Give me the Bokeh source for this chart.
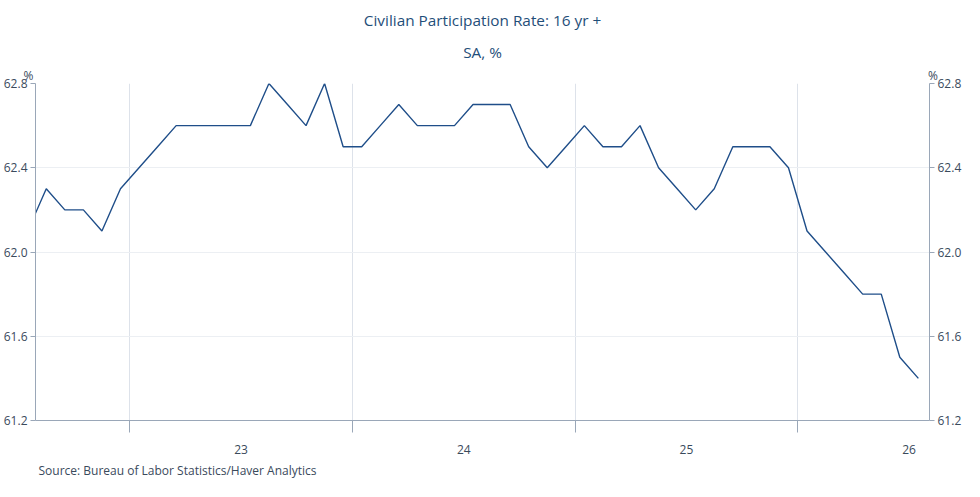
from bokeh.plotting import figure
from bokeh.models import FixedTicker, LinearAxis, Range1d, Title
from bokeh.embed import file_html
from bokeh.resources import INLINE

# months index: 0 = Jan 2023; points at mid-month
months = list(range(-6, 43))
values = [62.1, 62.3, 62.2, 62.2, 62.1, 62.3,
          62.4, 62.5, 62.6, 62.6, 62.6, 62.6, 62.6, 62.8, 62.7, 62.6, 62.8, 62.5,
          62.5, 62.6, 62.7, 62.6, 62.6, 62.6, 62.7, 62.7, 62.7, 62.5, 62.4, 62.5,
          62.6, 62.5, 62.5, 62.6, 62.4, 62.3, 62.2, 62.3, 62.5, 62.5, 62.5, 62.4,
          62.1, 62.0, 61.9, 61.8, 61.8, 61.5, 61.4]
year_labels = ["23", "24", "25", "26"]
year_starts = [0, 12, 24, 36]

xs = [m + 0.5 for m in months]
mids = [s + 6 for s in year_starts]

TXT = "#3a4a5c"
p = figure(width=964, height=481, output_backend="svg", toolbar_location=None,
           x_range=Range1d(-5.08, 43.1), y_range=Range1d(61.2, 62.8),
           min_border_left=31, min_border_right=33, min_border_top=4, min_border_bottom=0)
p.outline_line_color = None
p.line(xs, values, line_color="#1f4e89", line_width=1.4)

pct = "%" + "\u00a0" * 287 + "%"
p.add_layout(Title(text=pct, align="left", text_font="Open Sans", text_font_size="9pt",
                   text_color=TXT, text_font_style="normal", offset=-12, standoff=0), "above")
p.add_layout(Title(text="SA, %", align="center", text_font="Open Sans", text_font_size="11.5pt",
                   text_color="#1f4e79", text_font_style="normal", standoff=6), "above")
p.add_layout(Title(text="Civilian Participation Rate: 16 yr +", align="center", text_font="Open Sans",
                   text_font_size="11.5pt", text_color="#1f4e79", text_font_style="normal",
                   standoff=14), "above")
p.add_layout(Title(text="Source:  Bureau of Labor Statistics/Haver Analytics", align="left",
                   text_font="Open Sans", text_font_size="9pt", text_color=TXT,
                   text_font_style="normal", offset=3, standoff=6), "below")

xa = p.xaxis[0]
xa.ticker = FixedTicker(ticks=mids, minor_ticks=year_starts)
xa.major_label_overrides = {m: l for m, l in zip(mids, year_labels)}
xa.major_tick_out = 0
xa.major_tick_in = 0
xa.minor_tick_out = 12
xa.minor_tick_in = 0
xa.major_label_standoff = 12

yt = FixedTicker(ticks=[61.2, 61.6, 62.0, 62.4, 62.8], minor_ticks=[])
p.yaxis[0].ticker = yt
p.add_layout(LinearAxis(ticker=yt), "right")
for ax in [xa] + list(p.yaxis):
    ax.axis_line_color = "#9aa7b8"
    ax.major_tick_line_color = "#9aa7b8"
    ax.minor_tick_line_color = "#9aa7b8"
    ax.major_label_text_color = TXT
    ax.major_label_text_font = "Open Sans"
    ax.major_label_text_font_size = "9pt"
for ax in p.yaxis:
    ax.major_tick_out = 5
    ax.major_tick_in = 0
    ax.major_label_standoff = 3
    ax.major_label_overrides = {v: f"{v:.1f}" for v in [61.2, 61.6, 62.0, 62.4, 62.8]}

p.xgrid.ticker = FixedTicker(ticks=year_starts)
p.xgrid.grid_line_color = "#dde2ea"
p.ygrid.grid_line_color = "#eceff3"

open("out.html", "w").write(file_html(p, INLINE))
